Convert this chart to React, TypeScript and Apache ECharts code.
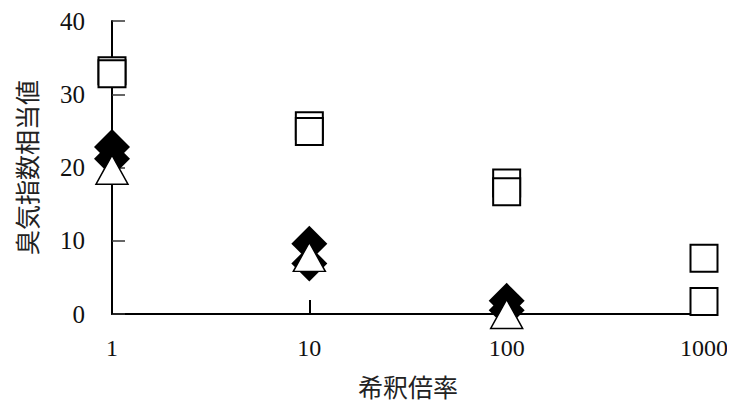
import React, { useEffect, useRef } from "react";
import * as echarts from "echarts";

const xTicks = [1, 10, 100, 1000];
const yTicks = [0, 10, 20, 30, 40];
const squarePoints: [number, number][] = [
  [1, 33.2], [1, 32.8],
  [10, 25.7], [10, 24.9],
  [100, 17.9], [100, 16.7],
  [1000, 7.6], [1000, 1.7],
];
const diamondPoints: [number, number][] = [
  [1, 22.8], [1, 21.2],
  [10, 9.6], [10, 6.9],
  [100, 1.8], [100, 0.5],
];
const trianglePoints: [number, number][] = [
  [1, 19.7], [10, 7.8], [100, 0],
];

const serif = "'Liberation Serif', 'DejaVu Serif', serif";
const cjk = "'Noto Sans CJK JP', sans-serif";

export default function App() {
  const ref = useRef<HTMLDivElement>(null);
  useEffect(() => {
    if (!ref.current) return;
    const chart = echarts.init(ref.current, undefined, { renderer: "svg" });
    chart.setOption({
      animation: false,
      backgroundColor: "#ffffff",
      grid: { left: 112, right: 31, top: 21, bottom: 96, containLabel: false },
      xAxis: {
        type: "log",
        logBase: 10,
        min: 1,
        max: 1000,
        name: "希釈倍率",
        nameLocation: "middle",
        nameGap: 59,
        nameTextStyle: { fontFamily: cjk, fontSize: 25, color: "#222" },
        axisLine: { lineStyle: { color: "#000", width: 2 } },
        axisTick: { inside: true, length: 14, lineStyle: { color: "#000", width: 2 } },
        minorTick: { show: false },
        splitLine: { show: false },
        axisLabel: {
          fontFamily: serif,
          fontSize: 24,
          color: "#111",
          margin: 22,
          formatter: (v: number) => (xTicks.includes(Math.round(v)) ? String(Math.round(v)) : ""),
        },
      },
      yAxis: {
        type: "value",
        min: 0,
        max: 40,
        interval: 10,
        name: "臭気指数相当値",
        nameLocation: "middle",
        nameGap: 74,
        nameRotate: 90,
        nameTextStyle: { fontFamily: cjk, fontSize: 25, color: "#222", lineHeight: 25 },
        axisLine: { show: true, lineStyle: { color: "#000", width: 2 } },
        axisTick: { show: true, inside: true, length: 13, lineStyle: { color: "#333", width: 1.5 } },
        splitLine: { show: false },
        axisLabel: {
          fontFamily: serif,
          fontSize: 25,
          color: "#111",
          margin: 27,
          formatter: (v: number) => (yTicks.includes(v) ? String(v) : ""),
        },
      },
      series: [
        {
          type: "scatter",
          data: squarePoints,
          symbol: "rect",
          symbolSize: 27,
          clip: false,
          itemStyle: { color: "#fff", borderColor: "#000", borderWidth: 2, opacity: 1 },
          z: 2,
        },
        {
          type: "scatter",
          data: diamondPoints,
          symbol: "diamond",
          symbolSize: [36, 36],
          clip: false,
          itemStyle: { color: "#000", borderColor: "#000", borderWidth: 0, opacity: 1 },
          z: 3,
        },
        {
          type: "scatter",
          data: trianglePoints,
          symbol: "triangle",
          symbolSize: [32, 29],
          clip: false,
          itemStyle: { color: "#fff", borderColor: "#000", borderWidth: 1.5, opacity: 1 },
          z: 4,
        },
      ],
    });
    return () => chart.dispose();
  }, []);
  return <div ref={ref} style={{ width: 735, height: 410, margin: -8 }} />;
}
